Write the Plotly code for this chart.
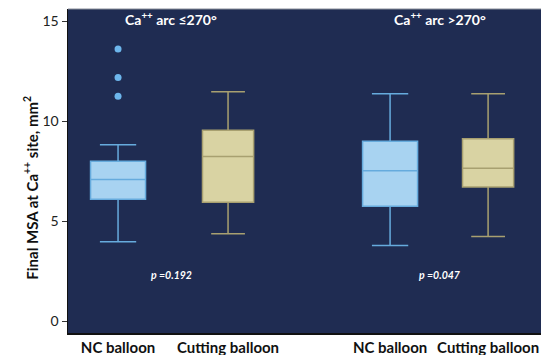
import plotly.graph_objects as go

# ---- data ----
group_titles = ["Ca<sup>++</sup> arc ≤270°", "Ca<sup>++</sup> arc >270°"]
device_labels = ["NC balloon", "Cutting balloon", "NC balloon", "Cutting balloon"]
lower_whisker = [3.98, 4.38, 3.80, 4.25]
q1_vals = [6.10, 5.95, 5.75, 6.72]
median_vals = [7.09, 8.24, 7.53, 7.65]
q3_vals = [8.00, 9.55, 9.00, 9.12]
upper_whisker = [8.83, 11.47, 11.37, 11.37]
outliers_nc_le270 = [11.25, 12.18, 13.60]
p_values = ["0.192", "0.047"]
y_ticks = [0, 5, 10, 15]

# ---- layout / style (not data) ----
x_pos = [1.0, 2.0, 3.473, 4.364]
group_centers = [1.482, 3.930]
box_widths = [0.50, 0.465, 0.50, 0.465]
fills = ["#a8d3f1", "#d9d3a3", "#a8d3f1", "#d9d3a3"]
lines = ["#66abdd", "#a8a070", "#66abdd", "#a8a070"]
bg = "#1f2c52"
FONT = "Lato"

fig = go.Figure()
for i in range(4):
    fig.add_trace(go.Box(
        x=[x_pos[i]],
        q1=[q1_vals[i]], median=[median_vals[i]], q3=[q3_vals[i]],
        lowerfence=[lower_whisker[i]], upperfence=[upper_whisker[i]],
        width=box_widths[i], whiskerwidth=0.66,
        fillcolor=fills[i], line=dict(color=lines[i], width=1.5),
        boxpoints=False, showlegend=False, hoverinfo="skip",
    ))

fig.add_trace(go.Scatter(
    x=[x_pos[0]] * len(outliers_nc_le270), y=outliers_nc_le270,
    mode="markers", marker=dict(color="#6db6ec", size=7),
    showlegend=False, hoverinfo="skip",
))

annotations = []
for cx, t in zip(group_centers, group_titles):
    annotations.append(dict(x=cx, y=15.13, xref="x", yref="y", text=f"<b>{t}</b>",
                            showarrow=False, font=dict(family=FONT, size=14, color="white")))
for cx, p in zip(group_centers, p_values):
    annotations.append(dict(x=cx, y=2.3, xref="x", yref="y", text=f"<b><i>p ={p}</i></b>",
                            showarrow=False, font=dict(family=FONT, size=10.5, color="white")))
annotations.append(dict(x=0, xref="paper", xshift=-37, xanchor="center",
                        y=6.68, yref="y", yanchor="middle",
                        text="<b>Final MSA at Ca<sup>++</sup> site, mm<sup>2</sup></b>",
                        textangle=-90, showarrow=False,
                        font=dict(family=FONT, size=15, color="#111")))

fig.update_layout(
    width=541, height=355,
    margin=dict(l=68, r=0, t=9, b=22, autoexpand=False),
    paper_bgcolor="white", plot_bgcolor=bg,
    font=dict(family=FONT, color="#111"),
    annotations=annotations,
    shapes=[dict(type="line", xref="paper", yref="paper", x0=0, x1=1, y0=1, y1=1,
                 line=dict(color="#8a8f9a", width=1))],
)
fig.update_xaxes(
    range=[0.545, 4.845], tickvals=x_pos, ticktext=[f"<b>{d}</b>" for d in device_labels],
    showgrid=False, zeroline=False, showline=True, linecolor="#111", linewidth=2,
    ticks="", tickfont=dict(family=FONT, size=15, color="#111"),
    ticklabeloverflow="allow", automargin=False,
)
fig.update_yaxes(
    range=[-0.57, 15.6], tickvals=y_ticks,
    showgrid=False, zeroline=False, showline=True, linecolor="#111", linewidth=1.5,
    ticks="outside", ticklen=5, tickcolor="#333",
    tickfont=dict(family=FONT, size=14, color="#222"), automargin=False,
)

fig.write_html("out.html", config={"displayModeBar": False, "staticPlot": True},
               post_script="document.body.style.margin='0';document.body.style.overflow='hidden';")
